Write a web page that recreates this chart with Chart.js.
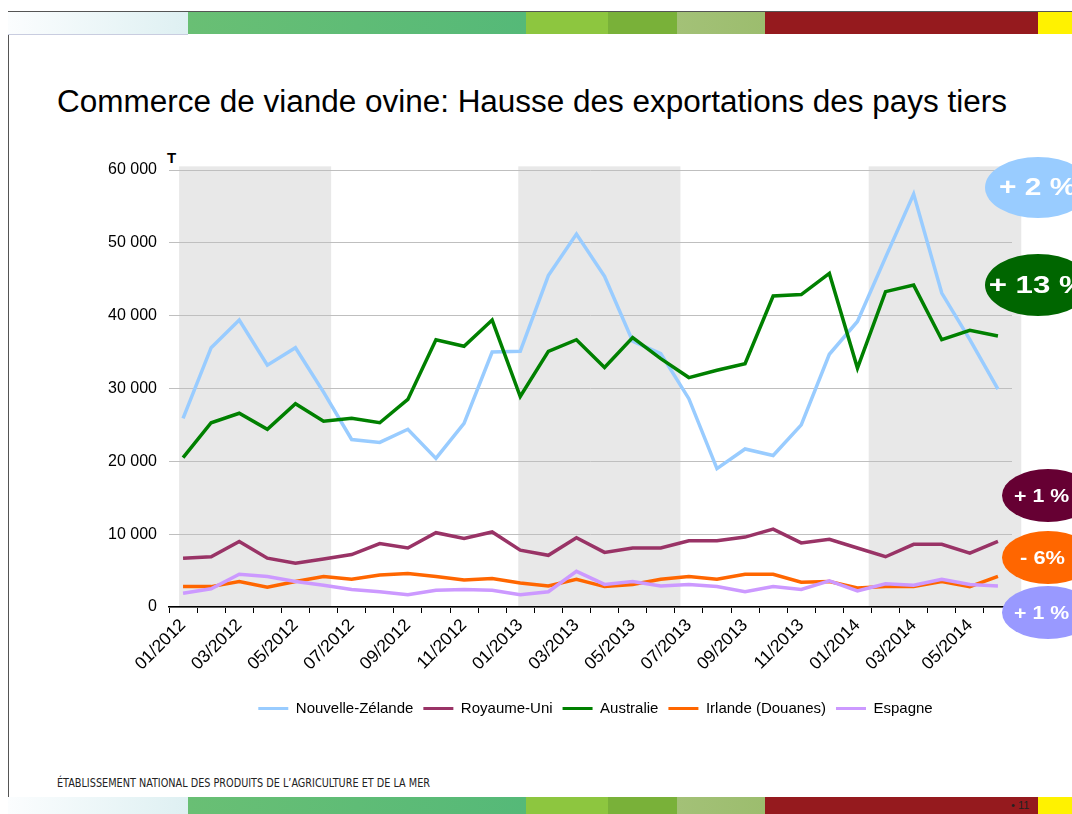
<!DOCTYPE html>
<html>
<head>
<meta charset="utf-8">
<script src="https://cdn.jsdelivr.net/npm/chart.js@4.4.1/dist/chart.umd.min.js"></script>
<style>
  body { margin: 0; width: 1072px; height: 814px; overflow: hidden; background: #fff; position: relative; font-family: "Liberation Sans", Arial, sans-serif; }
  .band { position: absolute; height: 22px; }
  .title { position: absolute; left: 57px; top: 84px; font-size: 31px; color: #000; white-space: nowrap; transform-origin: left top; }
  .footer { position: absolute; left: 57px; top: 775px; font-family: "Liberation Sans Narrow", "DejaVu Sans Condensed", sans-serif; font-size: 12.5px; color: #222; white-space: nowrap; transform-origin: left top; }
  .pageno { position: absolute; left: 1011px; top: 799px; font-size: 11px; color: #222; }
  .unit { position: absolute; left: 167px; top: 149px; font-size: 15px; font-weight: bold; color: #000; }
  .bubble { position: absolute; border-radius: 50%; display: flex; align-items: center; justify-content: center; color: #fff; font-weight: bold; z-index: 5; }
  .bubble span { display: inline-block; white-space: pre; }
  #wrap { position: absolute; left: 0; top: 0; width: 1072px; height: 726px; }
</style>
</head>
<body>
<div style="position:absolute;left:8px;top:11px;width:1064px;height:1px;background:#555"></div>
<div style="position:absolute;left:8px;top:11px;width:1px;height:786px;background:#555"></div>
<div id="topbar"></div>
<div id="botbar"></div>

<div class="title" id="title">Commerce de viande ovine: Hausse des exportations des pays tiers</div>
<div class="unit">T</div>
<div id="wrap"><canvas id="chart"></canvas></div>
<div id="bubbles"></div>
<div class="footer" id="footer">ÉTABLISSEMENT NATIONAL DES PRODUITS DE L’AGRICULTURE ET DE LA MER</div>
<div class="pageno">• 11</div>

<script>
const months = ['01/2012','02/2012','03/2012','04/2012','05/2012','06/2012','07/2012','08/2012','09/2012','10/2012','11/2012','12/2012',
                '01/2013','02/2013','03/2013','04/2013','05/2013','06/2013','07/2013','08/2013','09/2013','10/2013','11/2013','12/2013',
                '01/2014','02/2014','03/2014','04/2014','05/2014','06/2014'];

const nouvelleZelande = [25900, 35600, 39400, 33200, 35600, 29500, 23000, 22600, 24400, 20400, 25200, 35000,
                         35100, 45500, 51200, 45400, 36500, 34800, 28600, 19000, 21700, 20800, 25000, 34700,
                         39200, 48000, 56700, 43100, 36700, 29900];
const royaumeUni = [6700, 6900, 9000, 6700, 6000, 6600, 7200, 8700, 8100, 10200, 9400, 10300,
                    7800, 7100, 9500, 7500, 8100, 8100, 9100, 9100, 9600, 10700, 8800, 9300,
                    8100, 6900, 8600, 8600, 7400, 9000];
const australie = [20500, 25300, 26600, 24400, 27900, 25500, 25900, 25300, 28500, 36700, 35800, 39400,
                   28900, 35100, 36700, 32900, 37000, 34100, 31500, 32500, 33400, 42700, 42900, 45800,
                   32800, 43300, 44200, 36700, 38000, 37200];
const irlande = [2800, 2800, 3500, 2700, 3500, 4200, 3800, 4400, 4600, 4200, 3700, 3900,
                 3300, 2900, 3800, 2800, 3100, 3800, 4200, 3800, 4500, 4500, 3400, 3500,
                 2600, 2800, 2800, 3500, 2800, 4200];
const espagne = [1900, 2500, 4500, 4200, 3500, 3000, 2400, 2100, 1700, 2300, 2400, 2300,
                 1700, 2100, 4900, 3100, 3500, 2900, 3100, 2800, 2100, 2800, 2400, 3600,
                 2200, 3200, 3000, 3800, 3100, 2900];

const seriesNames = ['Nouvelle-Zélande', 'Royaume-Uni', 'Australie', 'Irlande (Douanes)', 'Espagne'];
const seriesColors = ['#99ccff', '#993366', '#008000', '#ff6600', '#cc99ff'];

// shaded periods (Jan-Jun of each year), in month positions
const bands = [[-0.14, 5.27], [11.93, 17.7], [24.4, 29.83]];
const bandTop = 60500;

const yTicks = [0, 10000, 20000, 30000, 40000, 50000, 60000];

// change labels on the right
const changes = [
  {text: '+ 2 %', color: '#99ccff', top: 157, left: 985, w: 106, h: 61, size: 23, sx: 1.3, dx: 0},
  {text: '+ 13 %', color: '#006600', top: 254, left: 985, w: 106, h: 62, size: 24, sx: 1.3, dx: 0},
  {text: '+ 1 %', color: '#660033', top: 469, left: 1002, w: 92, h: 53, size: 19, sx: 1.12, dx: -6},
  {text: '- 6%', color: '#ff6600', top: 531, left: 1002, w: 92, h: 53, size: 19, sx: 1.15, dx: -5},
  {text: '+ 1 %', color: '#9999ff', top: 586, left: 1002, w: 92, h: 53, size: 19, sx: 1.12, dx: -6}
];

// slide bars
const barSegments = [
  [8, 188, 'linear-gradient(to right, #fbfdfe, #def0f2)'],
  [188, 526, 'linear-gradient(to right, #69bf74, #55b978)'],
  [526, 608, '#8dc63f'],
  [608, 677, '#79b139'],
  [677, 765, 'linear-gradient(to right, #a3c177, #9cbd6e)'],
  [765, 1038, '#951a1e'],
  [1038, 1072, '#fff200']
];
function makeBar(id, top, h) {
  const el = document.getElementById(id);
  barSegments.forEach((s, i) => {
    const d = document.createElement('div');
    d.className = 'band';
    d.style.left = s[0] + 'px';
    d.style.width = (s[1] - s[0]) + 'px';
    d.style.top = top + 'px';
    d.style.height = h + 'px';
    d.style.background = s[2];
    if (i == 0 && id == 'topbar') d.style.borderBottom = '1px solid #c9cde0';
    el.appendChild(d);
  });
}
makeBar('topbar', 12, 22);
makeBar('botbar', 797, 17);

function fitWidth(id, w) {
  const el = document.getElementById(id);
  const cur = el.getBoundingClientRect().width;
  el.style.transform = `scaleX(${w / cur})`;
}
fitWidth('title', 950);
fitWidth('footer', 373);

const bub = document.getElementById('bubbles');
changes.forEach(c => {
  const d = document.createElement('div');
  d.className = 'bubble';
  d.style.cssText = `left:${c.left}px;top:${c.top}px;width:${c.w}px;height:${c.h}px;background:${c.color};font-size:${c.size}px;`;
  d.innerHTML = `<span style="transform: translateX(${c.dx}px) scaleX(${c.sx})">${c.text}</span>`;
  bub.appendChild(d);
});

const shadePlugin = {
  id: 'shade',
  beforeDraw(chart) {
    const { ctx, scales: { x, y } } = chart;
    ctx.save();
    ctx.fillStyle = '#e8e8e8';
    const top = y.getPixelForValue(bandTop);
    const bottom = y.getPixelForValue(0);
    bands.forEach(b => {
      const x0 = x.getPixelForValue(b[0]);
      const x1 = x.getPixelForValue(b[1]);
      ctx.fillRect(x0, top, x1 - x0, bottom - top);
    });
    ctx.restore();
  }
};

// center the legend under the plot area rather than the canvas
const legendShift = {
  id: 'legendShift',
  afterLayout(chart) {
    const lg = chart.legend;
    if (!lg) return;
    const target = (chart.chartArea.left + chart.chartArea.right) / 2 + 5;
    const d = target - (lg.left + lg.right) / 2;
    lg.left += d;
    lg.right += d;
  }
};

const allSeries = [nouvelleZelande, royaumeUni, australie, irlande, espagne];
const datasets = allSeries.map((data, i) => ({
  label: seriesNames[i],
  data: data,
  borderColor: seriesColors[i],
  backgroundColor: seriesColors[i],
  borderWidth: 3.5,
  pointRadius: 0,
  tension: 0,
  order: allSeries.length - i
}));

Chart.defaults.font.family = '"Liberation Sans", Arial, sans-serif';
Chart.defaults.color = '#000';

new Chart(document.getElementById('chart'), {
  type: 'line',
  data: { labels: months, datasets: datasets },
  plugins: [shadePlugin, legendShift],
  options: {
    responsive: true,
    maintainAspectRatio: false,
    animation: false,
    layout: { padding: { left: 0, right: 60, top: 170, bottom: 0 } },
    plugins: {
      tooltip: { enabled: false },
      legend: {
        position: 'bottom',
        labels: {
          boxWidth: 30,
          boxHeight: 3,
          padding: 10,
          font: { size: 15 },
          color: '#000',
          sort: (a, b) => a.datasetIndex - b.datasetIndex,
          generateLabels(chart) {
            return Chart.defaults.plugins.legend.labels.generateLabels(chart).map(l => {
              l.lineWidth = 0;
              l.strokeStyle = 'rgba(0,0,0,0)';
              return l;
            });
          }
        }
      }
    },
    scales: {
      x: {
        offset: true,
        grid: { offset: true, drawOnChartArea: false, drawTicks: true, tickLength: 6, color: '#000', lineWidth: 1 },
        border: { display: true, color: '#000', width: 1.5 },
        ticks: {
          autoSkip: false,
          maxRotation: 45,
          minRotation: 45,
          padding: 2,
          font: { size: 17.5 },
          color: '#000',
          callback: (v, i) => (i % 2 == 0 ? months[i] : '')
        },
        afterFit: s => { s.height = 84; }
      },
      y: {
        min: 0,
        max: 60000,
        afterBuildTicks: s => { s.ticks = yTicks.map(v => ({ value: v })); },
        grid: { color: '#bfbfbf', lineWidth: 1, drawTicks: false },
        border: { display: false },
        ticks: {
          padding: 12,
          font: { size: 16 },
          color: '#000',
          callback: v => String(v).replace(/\B(?=(\d{3})+(?!\d))/g, ' ')
        },
        afterFit: s => { s.width = 169; }
      }
    }
  }
});
</script>
</body>
</html>
